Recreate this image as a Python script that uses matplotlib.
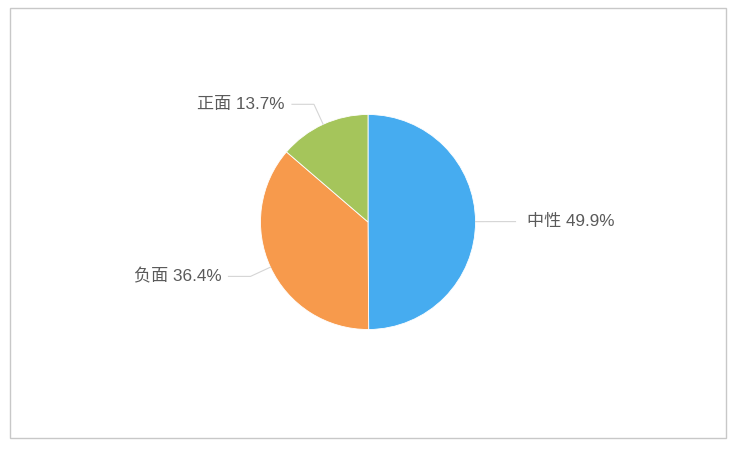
import numpy as np
import matplotlib.pyplot as plt
from matplotlib.patches import Rectangle

plt.rcParams['font.family'] = ['Liberation Sans', 'Noto Sans CJK SC', 'DejaVu Sans']

# data
labels = ['中性', '负面', '正面']
values = [49.9, 36.4, 13.7]
colors = ['#46acf0', '#f79a4c', '#a5c55b']

W, H = 740, 451
fig = plt.figure(figsize=(W / 100, H / 100), dpi=100)
ax = fig.add_axes([0, 0, 1, 1])

cx, cy, r = 368, H - 222, 107.5
wedges, _ = ax.pie(values, colors=colors, startangle=90, counterclock=False,
                   center=(cx, cy), radius=r, frame=True,
                   wedgeprops=dict(edgecolor='white', linewidth=0.6))
ax.set_xlim(0, W)
ax.set_ylim(0, H)
ax.set_aspect('equal')
ax.axis('off')

# frame around the chart
ax.add_patch(Rectangle((10, H - 438), 716, 430, fill=False, edgecolor='#c8c8c8', lw=1))

# leader lines and labels
for w, lab, v in zip(wedges, labels, values):
    ang = np.deg2rad((w.theta1 + w.theta2) / 2)
    x0, y0 = cx + r * np.cos(ang), cy + r * np.sin(ang)
    x1, y1 = cx + (r + 22) * np.cos(ang), cy + (r + 22) * np.sin(ang)
    if np.cos(ang) >= 0:
        x2, ha, tx = x1 + 18, 'left', x1 + 30
    else:
        x2, ha, tx = x1 - 22, 'right', x1 - 29
    ax.plot([x0, x1, x2], [y0, y1, y1], color='#d5d5d5', lw=0.8)
    ax.text(tx, y1, f'{lab} {v}%', ha=ha, va='center', fontsize=12.3, color='#5a5a5a')

fig.savefig('out.png', dpi=100)
